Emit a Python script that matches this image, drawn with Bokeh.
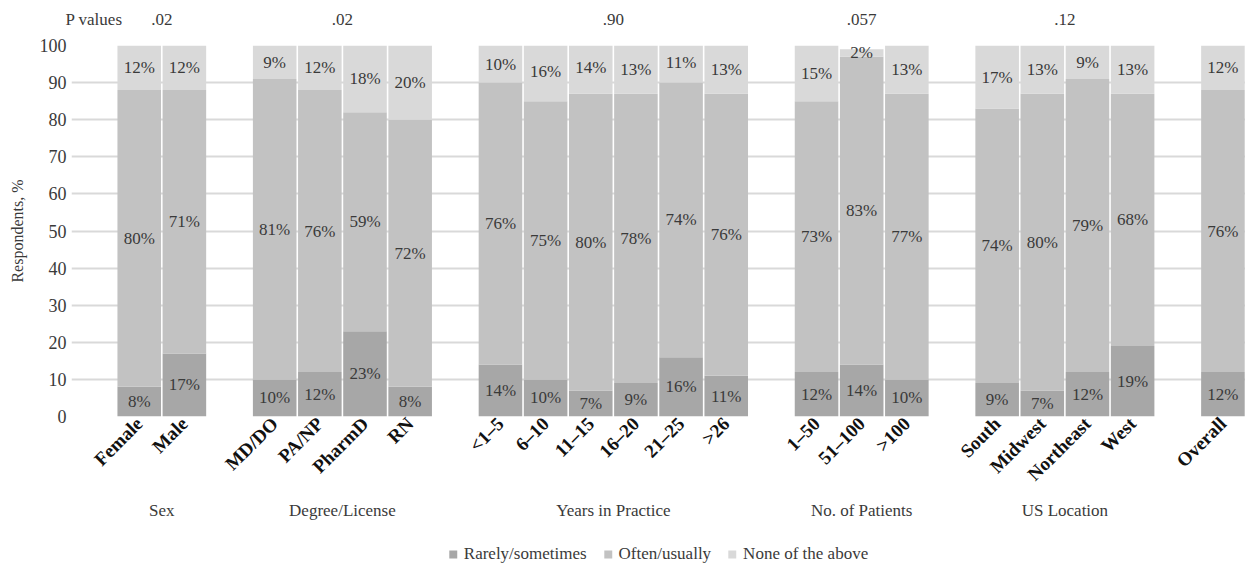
import math
from bokeh.plotting import figure
from bokeh.layouts import column
from bokeh.models import (ColumnDataSource, FixedTicker, Legend, LegendItem, LinearAxis, Range1d)
from bokeh.core.properties import value
from bokeh.embed import file_html
from bokeh.resources import INLINE

# ---------------- data ----------------
group_names = ["Sex", "Degree/License", "Years in Practice", "No. of Patients", "US Location", ""]
group_pvalues = [".02", ".02", ".90", ".057", ".12", ""]
group_categories = [
    ["Female", "Male"],
    ["MD/DO", "PA/NP", "PharmD", "RN"],
    ["<1\u20135", "6\u201310", "11\u201315", "16\u201320", "21\u201325", ">26"],
    ["1\u201350", "51\u2013100", ">100"],
    ["South", "Midwest", "Northeast", "West"],
    ["Overall"],
]
rarely = [8, 17, 10, 12, 23, 8, 14, 10, 7, 9, 16, 11, 12, 14, 10, 9, 7, 12, 19, 12]
often = [80, 71, 81, 76, 59, 72, 76, 75, 80, 78, 74, 76, 73, 83, 77, 74, 80, 79, 68, 76]
none_above = [12, 12, 9, 12, 18, 20, 10, 16, 14, 13, 11, 13, 15, 2, 13, 17, 13, 9, 13, 12]
series_names = ["Rarely/sometimes", "Often/usually", "None of the above"]
y_ticks = [0, 10, 20, 30, 40, 50, 60, 70, 80, 90, 100]
pvalue_caption = "P values"

# ---------------- styling ----------------
FONT = "Liberation Serif"
TXT = "#3a3a3a"
colors = ["#a7a7a7", "#c2c2c2", "#d9d9d9"]
LEFT = 71
FRAME_W = 1174


def key(v):
    return int(v) if float(v).is_integer() else v


# positions: one empty slot before and between groups
xs, cats, group_centers = [], [], []
cur = 0
for cl in group_categories:
    start = cur + 1
    for c in cl:
        cur += 1
        xs.append(cur)
        cats.append(c)
    group_centers.append((start + cur) / 2.0)
    cur += 1

x_range = Range1d(-0.5, cur - 0.5)
stacks = ["rarely", "often", "none_above"]

src = ColumnDataSource(dict(
    x=xs, cat=cats,
    rarely=rarely, often=often, none_above=none_above,
    y1=[r / 2 for r in rarely],
    y2=[r + o / 2 for r, o in zip(rarely, often)],
    y3=[r + o + n / 2 for r, o, n in zip(rarely, often, none_above)],
    t1=[f"{v}%" for v in rarely],
    t2=[f"{v}%" for v in often],
    t3=[f"{v}%" for v in none_above],
))

# ---------------- main chart ----------------
p = figure(frame_width=FRAME_W, frame_height=371, x_range=x_range,
           y_range=Range1d(0, 100), output_backend="svg", toolbar_location=None,
           min_border_left=LEFT, min_border_right=0, min_border_top=45, min_border_bottom=80)
p.outline_line_color = None
cat_axis = p.below[0]
y_axis = p.left[0]

p.vbar_stack(stacks, x="x", width=0.965, source=src, color=colors, line_color=None)

for ycol, tcol in (("y1", "t1"), ("y2", "t2"), ("y3", "t3")):
    p.text(x="x", y=ycol, text=tcol, source=src, text_align="center", text_baseline="middle",
           text_font=value(FONT), text_font_size="17px", text_color=TXT)

p.xgrid.grid_line_color = None
p.ygrid.grid_line_color = "#d9d9d9"
p.ygrid.grid_line_width = 2
y_axis.ticker = FixedTicker(ticks=y_ticks)
cat_axis.ticker = FixedTicker(ticks=xs)
cat_axis.major_label_overrides = {key(x): c for x, c in zip(xs, cats)}

# P values along the top
pv_ticks = [0] + [c for c, v in zip(group_centers, group_pvalues) if v]
pv_labels = [pvalue_caption] + [v for v in group_pvalues if v]
top_axis = LinearAxis(ticker=FixedTicker(ticks=pv_ticks),
                      major_label_overrides={key(t): l for t, l in zip(pv_ticks, pv_labels)})
p.add_layout(top_axis, "above")

for ax in (cat_axis, y_axis, top_axis):
    ax.axis_line_color = None
    ax.major_tick_line_color = None
    ax.minor_tick_line_color = None
    ax.major_tick_out = 0
    ax.major_tick_in = 0
    ax.major_label_text_font = FONT
    ax.major_label_text_color = TXT
    ax.major_label_text_font_size = "17px"

top_axis.major_label_standoff = 17

y_axis.major_label_text_font_size = "18px"
y_axis.major_label_standoff = 5
y_axis.axis_label = "Respondents, %"
y_axis.axis_label_text_font = FONT
y_axis.axis_label_text_font_style = "normal"
y_axis.axis_label_text_font_size = "16px"
y_axis.axis_label_text_color = TXT
y_axis.axis_label_standoff = 11

cat_axis.major_label_orientation = math.pi / 4
cat_axis.major_label_text_font_size = "19px"
cat_axis.major_label_text_font_style = "bold"
cat_axis.major_label_text_color = "#111111"
cat_axis.major_label_standoff = 4

# ---------------- bottom strip: group names + legend ----------------
bot = figure(frame_width=FRAME_W, frame_height=74, x_range=x_range, y_range=Range1d(0, 74),
             output_backend="svg", toolbar_location=None,
             min_border_left=LEFT, min_border_right=0, min_border_top=0, min_border_bottom=0)
bot.outline_line_color = None
bot.xgrid.grid_line_color = None
bot.ygrid.grid_line_color = None
bot.axis.visible = False

gn_x = [c for c, g in zip(group_centers, group_names) if g]
gn_t = [g for g in group_names if g]
bot.text(x=gn_x, y=[60] * len(gn_x), text=gn_t, text_align="center", text_baseline="middle",
         text_font=value(FONT), text_font_size="17px", text_color=TXT)

leg_rs = bot.vbar_stack(stacks, x="x", width=0.965, source=src, color=colors, line_color=None)
for r in leg_rs:
    r.visible = False

legend = Legend(items=[LegendItem(label=n, renderers=[r]) for n, r in zip(series_names, leg_rs)],
                orientation="horizontal", location="bottom_center", glyph_width=10, glyph_height=10,
                label_text_font=FONT, label_text_font_size="17px", label_text_color=TXT,
                background_fill_alpha=0, border_line_color=None, padding=0, margin=6,
                spacing=16, label_standoff=6, label_height=17,
                inactive_fill_alpha=0, click_policy="none")
bot.add_layout(legend, "center")

layout = column(p, bot, spacing=0)
open("out.html", "w").write(file_html(layout, INLINE))
